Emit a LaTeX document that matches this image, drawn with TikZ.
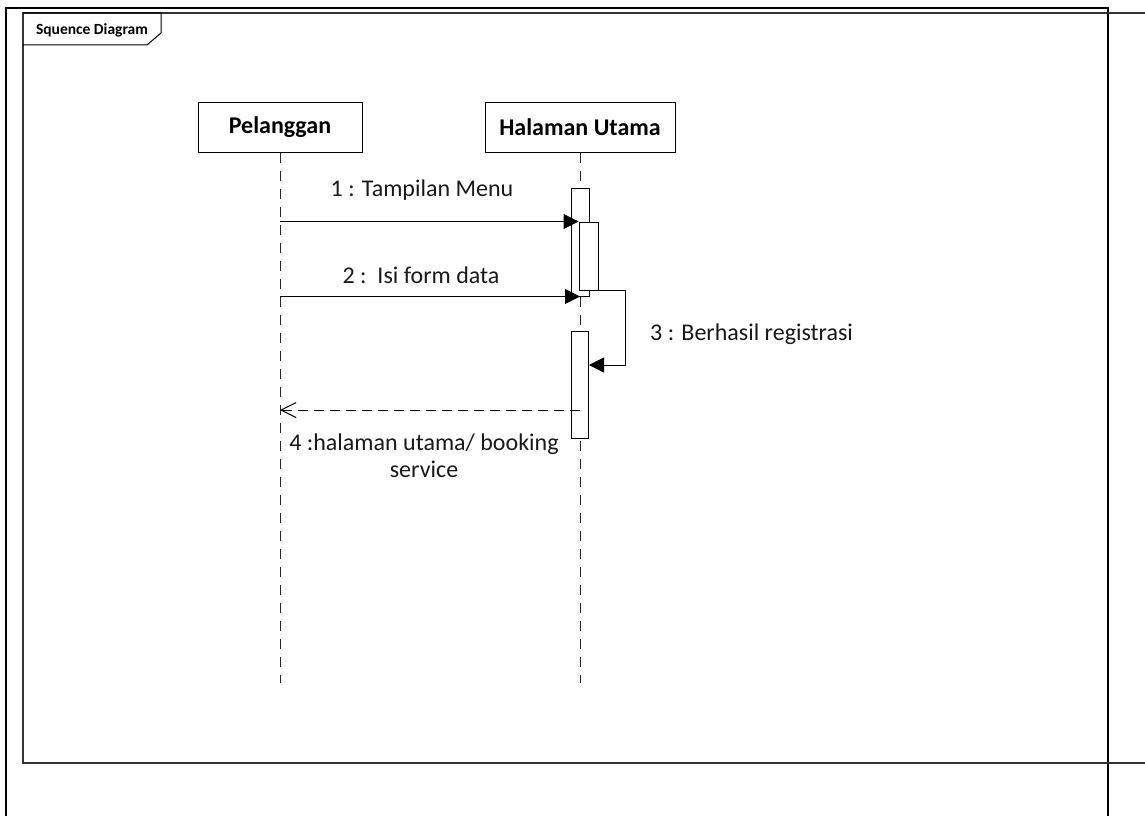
\documentclass[tikz,border=0pt]{standalone}
\usepackage{fontspec}
\setmainfont{Carlito}
\usetikzlibrary{arrows.meta}
\begin{document}
\begin{tikzpicture}[x=1pt,y=-1pt,
  lifebox/.style={draw=black,line width=1pt,fill=white,inner sep=0pt,
    minimum height=50pt,font=\fontsize{24}{29}\selectfont\bfseries},
  lifeline/.style={draw=black!85,line width=1pt,dash pattern=on 10pt off 8pt},
  actbar/.style={draw=black,line width=1pt,fill=white,inner sep=0pt,minimum width=18pt},
  msg/.style={draw=black,line width=1pt,-{Triangle[length=15pt,width=15pt]}},
  reply/.style={draw=black,line width=1pt,dash pattern=on 10pt off 6pt,
    -{Straight Barb[length=15pt,width=15pt,line width=1pt]}},
  msglabel/.style={inner sep=0pt,font=\fontsize{24}{27}\selectfont,text=black!90},
  framelabel/.style={inner sep=0pt,font=\fontsize{15.5}{18}\selectfont\bfseries}]
\useasboundingbox (0,0) rectangle (1145,816);

% outer border
\draw[line width=2pt,black] (6,816) -- (6,8) -- (1108,8) -- (1108,816);
% sequence frame
\draw[line width=1.5pt,black!80] (1145,13) -- (23,13) -- (23,763) -- (1145,763);
\draw[line width=1pt,black] (23,13) -- (161,13) -- (161,33) -- (147,45) -- (23,45);
\node[framelabel] (title) at (92,30) {Squence Diagram};

% lifelines
\node[lifebox,minimum width=164pt] (p) at (280,127.5) {Pelanggan};
\node[lifebox,minimum width=190pt] (h) at (580,127.5) {Halaman Utama};
\coordinate (pend) at (280,683);
\coordinate (hend) at (580,683);
\draw[lifeline] (p.south) -- (pend);
\draw[lifeline] (h.south) -- (hend);

% activation bars
\node[actbar,minimum height=108pt] (b1) at (580,242) {};
\node[actbar,minimum width=19pt,minimum height=68pt] (b2) at (588.5,256) {};
\node[actbar,minimum width=17pt,minimum height=107pt] (b3) at (580,384.5) {};

% messages
\draw[msg] (p.south |- b2.north west) -- (b2.north west);
\node[msglabel] (l1) at (422,190) {1 : Tampilan Menu};

\draw[msg] (p.south |- b1.south) -- (b1.south);
\node[msglabel] (l2) at (421,275) {2 :\ \ Isi form data};

\coordinate (s3) at (625,365);
\draw[msg] (b2.south east) -| (s3) -- (b3.east |- s3);
\node[msglabel,anchor=west] (l3) at (650,334) {3 : Berhasil registrasi};

\coordinate (r4) at (580,410);
\draw[reply] (r4) -- (p.south |- r4);
\node[msglabel,align=center] (l4) at (424,456) {4 :halaman utama/ booking\\service};
\end{tikzpicture}
\end{document}
